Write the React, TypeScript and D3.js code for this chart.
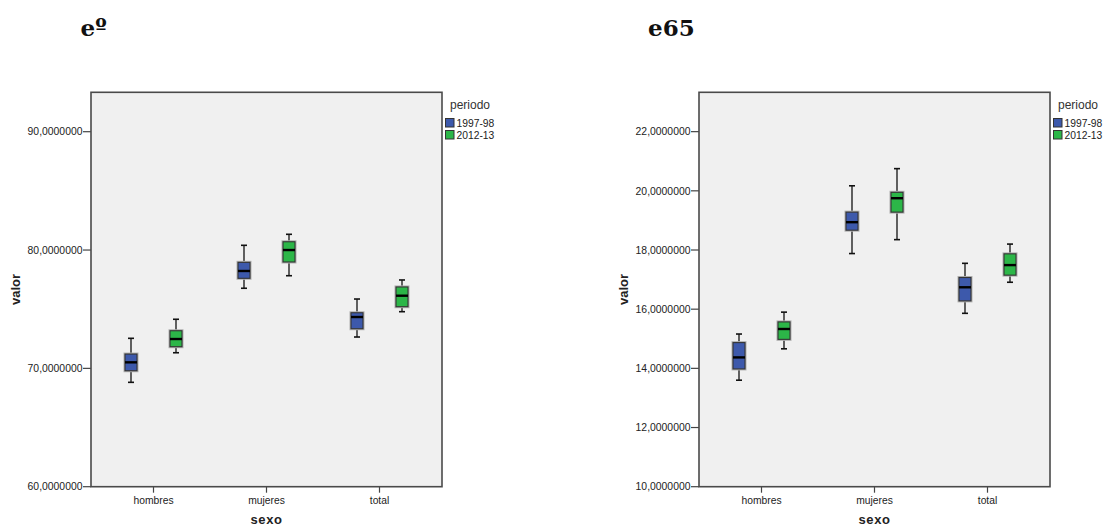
import React from "react";
import * as d3 from "d3";

// Categories and periods
const categories = ["hombres", "mujeres", "total"];
const periods = ["1997-98", "2012-13"];
const periodColors = ["#3D59AB", "#2CB648"];

// Box statistics per category: [min whisker, Q1, median, Q3, max whisker]
const e0Stats1997 = [
  [68.82, 69.8, 70.51, 71.21, 72.54],
  [76.77, 77.61, 78.23, 78.96, 80.4],
  [72.65, 73.35, 74.34, 74.7, 75.86],
];
const e0Stats2012 = [
  [71.32, 71.83, 72.48, 73.18, 74.15],
  [77.83, 78.99, 80.0, 80.7, 81.33],
  [74.79, 75.21, 76.14, 76.88, 77.47],
];
const e65Stats1997 = [
  [13.6, 13.98, 14.37, 14.87, 15.16],
  [17.88, 18.67, 18.94, 19.28, 20.17],
  [15.86, 16.28, 16.74, 17.07, 17.55],
];
const e65Stats2012 = [
  [14.66, 14.98, 15.33, 15.57, 15.9],
  [18.35, 19.28, 19.75, 19.95, 20.75],
  [16.91, 17.15, 17.49, 17.87, 18.2],
];

// Axis ticks and extents
const e0Ticks = [60, 70, 80, 90];
const e0Domain = [60, 93.33];
const e65Ticks = [10, 12, 14, 16, 18, 20, 22];
const e65Domain = [10, 23.33];

const esLocale = d3.formatLocale({
  decimal: ",",
  thousands: ".",
  grouping: [3],
  currency: ["", "€"],
});
const fmt = esLocale.format(".7f");

const SANS = "'Liberation Sans', Arial, sans-serif";
const TEXT = "#222";

type PanelProps = {
  left: number;
  title: string;
  titleX: number;
  domain: number[];
  ticks: number[];
  series: number[][][];
};

function Panel({ left, title, titleX, domain, ticks, series }: PanelProps) {
  const x0 = left;
  const x1 = left + 351;
  const y0 = 92.3;
  const y1 = 486.7;

  const y = d3.scaleLinear().domain(domain).range([y1, y0]);
  const xCat = d3.scaleBand().domain(categories).range([x0 + 6, x1 - 6]).padding(0);
  const xPer = d3.scaleBand().domain(periods).range([-45, 45]).padding(0);
  const boxW = 12;
  const capW = 6;

  return (
    <g>
      <text
        x={titleX}
        y={35.5}
        fontFamily="'DejaVu Serif', serif"
        fontWeight="bold"
        fontSize={23}
        fill="#111"
      >
        {title}
      </text>

      <rect x={x0} y={y0} width={x1 - x0} height={y1 - y0} fill="#F0F0F0" />

      {/* value axis */}
      {ticks.map((t) => (
        <g key={t}>
          <line x1={x0 - 8} x2={x0} y1={y(t)} y2={y(t)} stroke="#444" strokeWidth={1.2} />
          <text
            x={x0 - 8.5}
            y={y(t)}
            dy="0.36em"
            textAnchor="end"
            fontFamily={SANS}
            fontSize={10.4}
            fill={TEXT}
          >
            {fmt(t)}
          </text>
        </g>
      ))}

      {/* category axis */}
      {categories.map((c) => {
        const cx = xCat(c)! + xCat.bandwidth() / 2;
        return (
          <g key={c}>
            <line x1={cx} x2={cx} y1={y1} y2={y1 + 6} stroke="#444" strokeWidth={1.2} />
            <text
              x={cx}
              y={503.5}
              textAnchor="middle"
              fontFamily={SANS}
              fontSize={10.3}
              fill={TEXT}
            >
              {c}
            </text>
          </g>
        );
      })}

      {/* boxes */}
      {periods.map((p, pi) =>
        categories.map((c, ci) => {
          const [lo, q1, med, q3, hi] = series[pi][ci];
          const cx = xCat(c)! + xCat.bandwidth() / 2 + xPer(p)! + xPer.bandwidth() / 2;
          return (
            <g key={p + c}>
              <line x1={cx} x2={cx} y1={y(hi)} y2={y(q3)} stroke="#222" strokeWidth={1.4} />
              <line x1={cx} x2={cx} y1={y(q1)} y2={y(lo)} stroke="#222" strokeWidth={1.4} />
              <line x1={cx - capW / 2} x2={cx + capW / 2} y1={y(hi)} y2={y(hi)} stroke="#111" strokeWidth={1.6} />
              <line x1={cx - capW / 2} x2={cx + capW / 2} y1={y(lo)} y2={y(lo)} stroke="#111" strokeWidth={1.6} />
              <rect
                x={cx - boxW / 2}
                y={y(q3)}
                width={boxW}
                height={y(q1) - y(q3)}
                fill="none"
                stroke="#b0b0b0"
                strokeWidth={3}
              />
              <rect
                x={cx - boxW / 2}
                y={y(q3)}
                width={boxW}
                height={y(q1) - y(q3)}
                fill={periodColors[pi]}
                stroke="#333"
                strokeWidth={1.1}
              />
              <line
                x1={cx - boxW / 2}
                x2={cx + boxW / 2}
                y1={y(med)}
                y2={y(med)}
                stroke="#000"
                strokeWidth={2.4}
              />
            </g>
          );
        })
      )}

      <rect
        x={x0}
        y={y0}
        width={x1 - x0}
        height={y1 - y0}
        fill="none"
        stroke="#4a4a4a"
        strokeWidth={1.6}
      />

      {/* axis titles */}
      <text
        transform={`translate(${left - 71},${(y0 + y1) / 2}) rotate(-90)`}
        textAnchor="middle"
        fontFamily={SANS}
        fontWeight="bold"
        fontSize={13}
        fill={TEXT}
      >
        valor
      </text>
      <text
        x={(x0 + x1) / 2}
        y={524}
        textAnchor="middle"
        fontFamily={SANS}
        fontWeight="bold"
        fontSize={13}
        letterSpacing={0.6}
        fill={TEXT}
      >
        sexo
      </text>

      {/* legend */}
      <text x={x1 + 8} y={108.8} fontFamily={SANS} fontSize={12} fill="#333">
        periodo
      </text>
      {periods.map((p, i) => (
        <g key={p}>
          <rect
            x={x1 + 3.5}
            y={118.5 + i * 12}
            width={8.5}
            height={8.5}
            fill={periodColors[i]}
            stroke="#333"
            strokeWidth={1}
          />
          <text x={x1 + 14.5} y={126.8 + i * 12} fontFamily={SANS} fontSize={10.3} fill={TEXT}>
            {p}
          </text>
        </g>
      ))}
    </g>
  );
}

export default function App() {
  return (
    <svg
      width={1103}
      height={528}
      style={{ position: "absolute", left: 0, top: 0, background: "#fff" }}
    >
      <Panel
        left={91}
        title="eº"
        titleX={80.5}
        domain={e0Domain}
        ticks={e0Ticks}
        series={[e0Stats1997, e0Stats2012]}
      />
      <Panel
        left={699}
        title="e65"
        titleX={648}
        domain={e65Domain}
        ticks={e65Ticks}
        series={[e65Stats1997, e65Stats2012]}
      />
    </svg>
  );
}
